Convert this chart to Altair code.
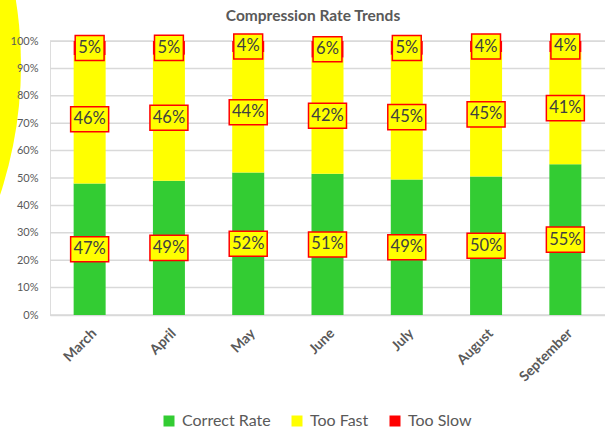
import altair as alt
import pandas as pd

months = ["March", "April", "May", "June", "July", "August", "September"]
correct_rate = [47, 49, 52, 51, 49, 50, 55]
too_fast = [46, 46, 44, 42, 45, 45, 41]
too_slow = [5, 5, 4, 6, 5, 4, 4]

categories = ["Correct Rate", "Too Fast", "Too Slow"]
colors = ["#33cc33", "#ffff00", "#ff0000"]
y_ticks = [0, 0.1, 0.2, 0.3, 0.4, 0.5, 0.6, 0.7, 0.8, 0.9, 1.0]
chart_title = "Compression Rate Trends"

rows = []
for i, m in enumerate(months):
    for order, (cat, series) in enumerate(zip(categories, [correct_rate, too_fast, too_slow])):
        rows.append({"month": m, "category": cat, "order": order, "value": series[i]})
df = pd.DataFrame(rows)

GRAY = "#595959"
GRID = "#d9d9d9"
FONT = "Lato"

# label box outlines: [-1, 1] spans sqrt(size) pixels
BOX_SIZE = 38 * 38
box3 = "M-1,-0.66L1,-0.66L1,0.66L-1,0.66Z"
box2 = "M-0.76,-0.66L0.76,-0.66L0.76,0.66L-0.76,0.66Z"

base = alt.Chart(df).transform_stack(
    stack="value",
    groupby=["month"],
    as_=["y0", "y1"],
    offset="normalize",
    sort=[alt.SortField("order", "ascending")],
).transform_calculate(
    mid="(datum.y0 + datum.y1) / 2",
    label="datum.value + '%'",
    nchar="toString(length(datum.value + '%'))",
)

x_axis = alt.Axis(
    labelAngle=-45,
    labelFontWeight="bold",
    labelFontSize=14,
    labelColor=GRAY,
    labelFont=FONT,
    labelPadding=11,
    ticks=False,
    domainColor=GRID,
    domainWidth=1.5,
)
# labels only, kept above the backdrop disc; gridlines are drawn as rules below
y_axis = alt.Axis(
    format="%",
    values=y_ticks,
    labelFontSize=11,
    labelColor=GRAY,
    labelFont=FONT,
    labelPadding=12,
    ticks=False,
    domain=False,
    grid=False,
    zindex=1,
)
y_scale = alt.Scale(domain=[0, 1], nice=False)
x_enc = alt.X("month:N", sort=months, title=None, axis=x_axis)

one_row = pd.DataFrame({"k": [0]})

# large yellow disc bleeding in from the left edge (vega circle: diameter = sqrt(size))
disc = alt.Chart(one_row).mark_circle(color="#ffff00", opacity=1).encode(
    x=alt.value(-442), y=alt.value(24), size=alt.value(826 * 826)
)

grid = alt.Chart(pd.DataFrame({"tick": y_ticks})).mark_rule(
    color=GRID, strokeWidth=1.5
).encode(
    y=alt.Y("tick:Q", scale=y_scale, title=None, axis=y_axis),
    x=alt.value(0),
    x2=alt.value("width"),
)

bars = base.mark_bar(size=32).encode(
    x=x_enc,
    y=alt.Y("y0:Q", scale=y_scale, title=None, axis=y_axis),
    y2="y1:Q",
    color=alt.Color(
        "category:N",
        scale=alt.Scale(domain=categories, range=colors),
        legend=alt.Legend(
            title=None,
            orient="none",
            direction="horizontal",
            legendX=111,
            legendY=372,
            symbolType="square",
            symbolSize=121,
            symbolStrokeWidth=0,
            labelFontSize=16,
            labelColor=GRAY,
            labelFont=FONT,
            labelOffset=5,
            columnPadding=18,
        ),
    ),
)

boxes = base.mark_point(
    filled=True, fill="#ffff00", stroke="#ff0000", strokeWidth=1.5, opacity=1
).encode(
    x=x_enc,
    y=alt.Y("mid:Q", scale=y_scale, title=None, axis=y_axis),
    shape=alt.Shape(
        "nchar:N", scale=alt.Scale(domain=["2", "3"], range=[box2, box3]), legend=None
    ),
    size=alt.value(BOX_SIZE),
)

texts = base.mark_text(fontSize=16.5, font=FONT, color="#404040", baseline="middle").encode(
    x=x_enc,
    y=alt.Y("mid:Q", scale=y_scale, title=None, axis=y_axis),
    text="label:N",
)

title = alt.Chart(one_row).mark_text(
    text=chart_title,
    font=FONT,
    fontSize=15.5,
    fontWeight="bold",
    color=GRAY,
    align="center",
    baseline="middle",
).encode(x=alt.value(263), y=alt.value(-25))

chart = alt.layer(disc, grid, bars, boxes, texts, title).properties(
    width=555,
    height=274,
    autosize=alt.AutoSizeParams(type="none"),
    padding={"left": 50, "top": 41, "right": 0, "bottom": 118},
).configure_view(stroke=None).configure(background="white")

chart.save("out.html", embed_options={"renderer": "svg", "actions": False})
